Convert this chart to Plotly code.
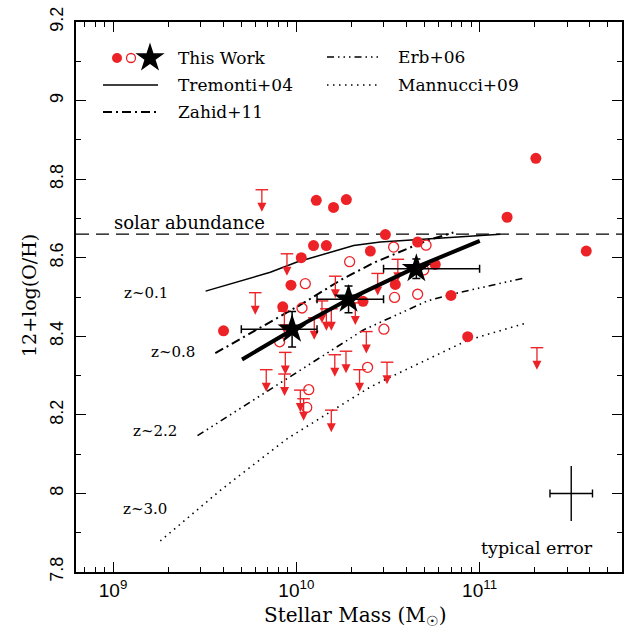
import numpy as np
import plotly.graph_objects as go

# ---------------- data (log stellar mass, 12+log(O/H)) ----------------
filled_logM = [9.603, 10.109, 10.203, 10.273, 10.094, 10.164, 10.027, 9.971, 9.926, 10.404,
               10.486, 10.662, 10.758, 10.540, 10.364, 10.844, 10.935, 11.150, 11.307, 11.582]
filled_OH = [8.414, 8.746, 8.728, 8.748, 8.631, 8.631, 8.600, 8.530, 8.475, 8.617,
             8.659, 8.640, 8.583, 8.532, 8.489, 8.504, 8.399, 8.703, 8.853, 8.617]

open_logM = [10.049, 10.031, 9.909, 10.291, 10.531, 10.708, 10.695, 10.536, 10.662, 10.478,
             10.389, 10.068, 10.057]
open_OH = [8.534, 8.472, 8.386, 8.590, 8.627, 8.632, 8.569, 8.499, 8.507, 8.418,
           8.321, 8.264, 8.219]

lim_logM = [9.812, 9.949, 9.776, 9.935, 10.098, 10.140, 10.164, 10.191, 10.213, 10.322,
            10.444, 10.554, 10.382, 9.940, 9.836, 9.936, 10.210, 10.271, 10.345, 10.495,
            10.022, 10.040, 10.191, 11.313]
lim_OH = [8.773, 8.610, 8.511, 8.464, 8.447, 8.490, 8.470, 8.470, 8.553, 8.485,
          8.560, 8.596, 8.412, 8.359, 8.315, 8.304, 8.353, 8.362, 8.315, 8.334,
          8.263, 8.241, 8.212, 8.371]
lim_arrow = 0.056

star_logM = [9.977, 10.285, 10.655]
star_OH = [8.418, 8.494, 8.572]
star_logM_lo = [9.700, 10.113, 10.476]
star_logM_hi = [10.113, 10.476, 11.000]
star_OH_err = [0.045, 0.034, 0.025]

fit_logM = [9.704, 9.977, 10.285, 10.655, 11.001]
fit_OH = [8.341, 8.416, 8.494, 8.576, 8.643]

T04_logM = [9.505, 9.858, 10.004, 10.313, 10.458, 10.713, 11.113]
T04_OH = [8.515, 8.563, 8.589, 8.631, 8.640, 8.648, 8.660]

Z11_logM = [9.558, 10.026, 10.256, 10.431, 10.715, 10.857]
Z11_OH = [8.357, 8.481, 8.547, 8.589, 8.644, 8.664]

E06_logM = [9.461, 9.913, 10.366, 10.715, 10.857, 11.250]
E06_OH = [8.147, 8.281, 8.416, 8.490, 8.508, 8.549]

M09_logM = [9.258, 9.586, 9.949, 10.404, 10.495, 10.935, 11.249]
M09_OH = [7.879, 8.008, 8.139, 8.271, 8.292, 8.390, 8.433]

solar_OH = 8.66
typ_logM, typ_OH, typ_dlogM, typ_dOH = 11.5, 8.0, 0.116, 0.07

x_range = [8.798, 11.777]
y_range = [7.8, 9.2]
y_ticks = [7.8, 8.0, 8.2, 8.4, 8.6, 8.8, 9.0, 9.2]
y_ticktext = ["7.8", "8", "8.2", "8.4", "8.6", "8.8", "9", "9.2"]
x_ticks = [1e9, 1e10, 1e11]
x_ticktext = ["10<sup>9</sup>", "10<sup>10</sup>", "10<sup>11</sup>"]

RED = "#ec2227"
SERIF = "DejaVu Serif"
SANS = "Liberation Sans"

# plot area in pixels (for legend placement)
L, R, T, B = 76, 622, 22, 572
W, H = 627, 632


def fx(px):
    return (px - L) / (R - L)


def fy(py):
    return (B - py) / (B - T)


def lin(v):
    return [10 ** a for a in v]


fig = go.Figure()

# solar abundance
fig.add_trace(go.Scatter(x=[10 ** x_range[0], 10 ** x_range[1]], y=[solar_OH, solar_OH], mode="lines",
                         line=dict(color="black", width=1.3, dash="13px,7px"), hoverinfo="skip"))

# literature relations
fig.add_trace(go.Scatter(x=lin(T04_logM), y=T04_OH, mode="lines",
                         line=dict(color="black", width=1.5), hoverinfo="skip"))
fig.add_trace(go.Scatter(x=lin(Z11_logM), y=Z11_OH, mode="lines",
                         line=dict(color="black", width=2, dash="9px,4px,2px,4px"), hoverinfo="skip"))
fig.add_trace(go.Scatter(x=lin(E06_logM), y=E06_OH, mode="lines",
                         line=dict(color="black", width=1.6,
                                   dash="7px,4px,1.5px,4px,1.5px,4px,1.5px,4px"), hoverinfo="skip"))
fig.add_trace(go.Scatter(x=lin(M09_logM), y=M09_OH, mode="lines",
                         line=dict(color="black", width=1.6, dash="1.5px,4.5px"), hoverinfo="skip"))

# upper limits: stems, caps, heads
stem_x, stem_y = [], []
for m, o in zip(lim_logM, lim_OH):
    stem_x += [10 ** m, 10 ** m, None]
    stem_y += [o, o - lim_arrow + 0.01, None]
fig.add_trace(go.Scatter(x=stem_x, y=stem_y, mode="lines",
                         line=dict(color=RED, width=1.3), hoverinfo="skip"))
fig.add_trace(go.Scatter(x=lin(lim_logM), y=lim_OH, mode="markers",
                         marker=dict(symbol="line-ew", size=9, line=dict(color=RED, width=1.4)),
                         hoverinfo="skip"))
fig.add_trace(go.Scatter(x=lin(lim_logM), y=[o - lim_arrow for o in lim_OH], mode="markers",
                         marker=dict(symbol="arrow-down", size=9, color=RED, line=dict(width=0)),
                         hoverinfo="skip"))

# open / filled circles
fig.add_trace(go.Scatter(x=lin(open_logM), y=open_OH, mode="markers",
                         marker=dict(symbol="circle-open", size=10, color=RED, line=dict(color=RED, width=1.3)),
                         hoverinfo="skip"))
fig.add_trace(go.Scatter(x=lin(filled_logM), y=filled_OH, mode="markers",
                         marker=dict(symbol="circle", size=11, color=RED, line=dict(width=0)),
                         hoverinfo="skip"))

# this work fit
fig.add_trace(go.Scatter(x=lin(fit_logM), y=fit_OH, mode="lines",
                         line=dict(color="black", width=4), hoverinfo="skip"))

# stacked stars with error bars
sx = lin(star_logM)
fig.add_trace(go.Scatter(
    x=sx, y=star_OH, mode="markers",
    marker=dict(symbol="star", size=22, color="black", line=dict(width=0)),
    error_x=dict(type="data", symmetric=False,
                 array=[10 ** h - x for h, x in zip(star_logM_hi, sx)],
                 arrayminus=[x - 10 ** l for l, x in zip(star_logM_lo, sx)],
                 color="black", thickness=1.5, width=4),
    error_y=dict(type="data", array=star_OH_err, color="black", thickness=1.5, width=4),
    hoverinfo="skip"))

# typical error
tx = 10 ** typ_logM
fig.add_trace(go.Scatter(
    x=[tx], y=[typ_OH], mode="markers", marker=dict(size=1, color="rgba(0,0,0,0)"),
    error_x=dict(type="data", symmetric=False, array=[10 ** (typ_logM + typ_dlogM) - tx],
                 arrayminus=[tx - 10 ** (typ_logM - typ_dlogM)], color="black", thickness=1.4, width=4),
    error_y=dict(type="data", array=[typ_dOH], color="black", thickness=1.4, width=0),
    hoverinfo="skip"))

# ---------------- legend drawn on an overlay axis ----------------
leg = dict(xaxis="x2", yaxis="y2", hoverinfo="skip")
fig.add_trace(go.Scatter(x=[fx(117)], y=[fy(58)], mode="markers",
                         marker=dict(symbol="circle", size=10, color=RED), **leg))
fig.add_trace(go.Scatter(x=[fx(131)], y=[fy(58)], mode="markers",
                         marker=dict(symbol="circle-open", size=9, color=RED, line=dict(color=RED, width=1.3)), **leg))
fig.add_trace(go.Scatter(x=[fx(150)], y=[fy(58)], mode="markers",
                         marker=dict(symbol="star", size=22, color="black"), **leg))
fig.add_trace(go.Scatter(x=[fx(103), fx(158)], y=[fy(85), fy(85)], mode="lines",
                         line=dict(color="black", width=1.5), **leg))
fig.add_trace(go.Scatter(x=[fx(103), fx(158)], y=[fy(112), fy(112)], mode="lines",
                         line=dict(color="black", width=2, dash="9px,4px,2px,4px"), **leg))
fig.add_trace(go.Scatter(x=[fx(327), fx(381)], y=[fy(57), fy(57)], mode="lines",
                         line=dict(color="black", width=1.6, dash="7px,4px,1.5px,4px,1.5px,4px,1.5px,4px"), **leg))
fig.add_trace(go.Scatter(x=[fx(327), fx(381)], y=[fy(85), fy(85)], mode="lines",
                         line=dict(color="black", width=1.6, dash="1.5px,4.5px"), **leg))

annotations = []


def text(s, px, py, size=17, anchor="left", font=SERIF):
    annotations.append(dict(text=s, x=fx(px), y=fy(py), xref="paper", yref="paper",
                            xanchor=anchor, yanchor="middle", showarrow=False,
                            font=dict(family=font, size=size, color="black")))


text("This Work", 176, 58)
text("Tremonti+04", 176, 85)
text("Zahid+11", 176, 112)
text("Erb+06", 396, 57)
text("Mannucci+09", 396, 85)
text("solar abundance", 112, 222, 18)
text("z~0.1", 122, 293, 15)
text("z~0.8", 149, 352, 15)
text("z~2.2", 131, 431, 15)
text("z~3.0", 121, 509, 15)
text("typical error", 479, 548, 17.5)
# axis titles
text("Stellar Mass (M<sub>☉</sub>)", 355, 616, 20, anchor="center")
annotations.append(dict(text="12+log(O/H)", x=fx(29), y=fy(296), xref="paper", yref="paper",
                        xanchor="center", yanchor="middle", showarrow=False, textangle=-90,
                        font=dict(family=SERIF, size=19, color="black")))

minor_x = [k * 10 ** e for e in range(8, 12) for k in range(2, 10)]

fig.update_layout(
    template="none",
    width=W, height=H, autosize=False,
    margin=dict(l=L, r=W - R, t=T, b=H - B, pad=0),
    paper_bgcolor="white", plot_bgcolor="white",
    showlegend=False,
    annotations=annotations,
    xaxis=dict(type="log", range=x_range, showgrid=False, zeroline=False, automargin=False,
               showline=True, linecolor="black", linewidth=1.5, mirror="allticks",
               ticks="inside", ticklen=10, tickwidth=1.3, tickcolor="black",
               tickvals=x_ticks, ticktext=x_ticktext, ticklabelstandoff=0,
               tickfont=dict(family=SANS, size=19, color="black"),
               minor=dict(tickvals=minor_x, ticks="inside", ticklen=5, tickwidth=1.2, tickcolor="black",
                          showgrid=False)),
    yaxis=dict(range=y_range, showgrid=False, zeroline=False, automargin=False,
               showline=True, linecolor="black", linewidth=1.5, mirror="allticks",
               ticks="inside", ticklen=10, tickwidth=1.3, tickcolor="black",
               tickvals=y_ticks, ticktext=y_ticktext, tickangle=-90, ticklabelstandoff=4,
               tickfont=dict(family=SANS, size=18, color="black"),
               minor=dict(dtick=0.1, tick0=7.8, ticks="inside", ticklen=5, tickwidth=1.2, tickcolor="black",
                          showgrid=False)),
    xaxis2=dict(overlaying="x", range=[0, 1], visible=False, fixedrange=True, automargin=False),
    yaxis2=dict(overlaying="y", range=[0, 1], visible=False, fixedrange=True, automargin=False),
)

fig.write_html("out.html", config={"displayModeBar": False},
               post_script="document.body.style.margin='0px';document.body.style.padding='0px';")
